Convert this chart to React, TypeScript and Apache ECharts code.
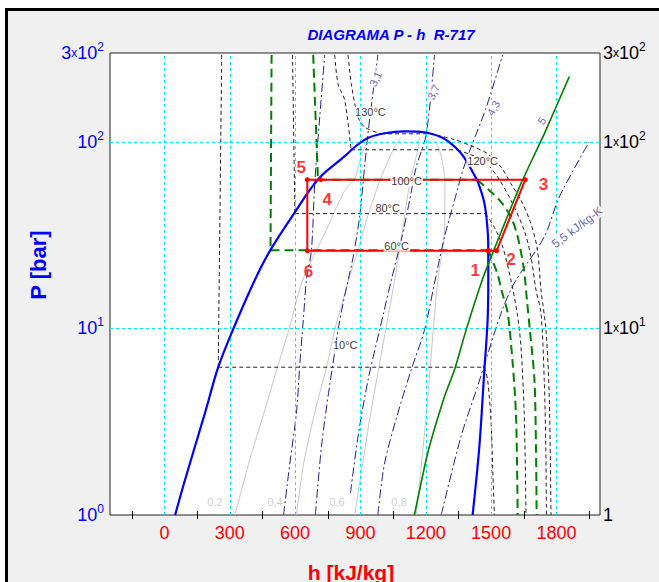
import React, { useEffect, useRef } from 'react';
import * as echarts from 'echarts';

// ---------------- texts & ticks ----------------
const chartTitle = 'DIAGRAMA P - h  R-717';
const xTitle = 'h [kJ/kg]';
const yTitle = 'P [bar]';
const hLabelValues = [0, 300, 600, 900, 1200, 1500, 1800];
const hMinorTicks = [-150, 150, 450, 750, 1050, 1350, 1650, 1950];
const hGridValues = [0, 300, 600, 900, 1200, 1500, 1800];
const pTickValues = [1, 10, 100, 300];
const pLabelsLeft = ['{n|10}{s|0}', '{n|10}{s|1}', '{n|10}{s|2}', '{n|3}{x|x}{n|10}{s|2}'];
const pLabelsRight = ['{n|1}', '{n|1}{x|x}{n|10}{s|1}', '{n|1}{x|x}{n|10}{s|2}', '{n|3}{x|x}{n|10}{s|2}'];
const pGridValues = [10, 100];

// ---------------- saturation dome ----------------
const domeH = [49, 95, 186, 247, 317, 415, 487, 599, 705, 828, 874, 934, 1011, 1103, 1194, 1271, 1316, 1358, 1390, 1415, 1438, 1469, 1484, 1487, 1487, 1484, 1469, 1446, 1415];
const domeP = [1, 1.55, 3.52, 6.2, 10, 18.2, 26.4, 42, 63, 84, 94, 105, 111.4, 114, 112.8, 106, 98, 88, 78, 69, 61.5, 47, 33.6, 26.3, 18.2, 11.1, 6.0, 2.33, 1];

// ---------------- isotherms ----------------
const t10LiqH = [263, 247];
const t10LiqP = [293, 6.2];
const t10VapH = [1469, 1484, 1500, 1507, 1515];
const t10VapP = [6.2, 5.3, 3.11, 1.82, 1];

const t60LiqH = [492, 487];
const t60LiqP = [293, 26.3];
const t60VapH = [1487, 1510, 1530, 1548, 1576, 1599, 1614, 1619, 1622];
const t60VapP = [26.3, 22.5, 19.5, 16, 12.1, 6.5, 3.5, 1.9, 1];

const t80LiqH = [588, 599];
const t80LiqP = [293, 41.3];
const t80VapH = [1475, 1520, 1555, 1591, 1620, 1637, 1652, 1660];
const t80VapP = [41.3, 34, 27, 18.2, 12, 8, 3.5, 1];

const t100LiqH = [683, 705];
const t100LiqP = [293, 62.8];
const t100VapH = [1436, 1500, 1546, 1591, 1622, 1650, 1665, 1678, 1699, 1706, 1709];
const t100VapP = [62.8, 54, 47.6, 39.6, 31, 21, 14, 9.8, 5.3, 2.33, 1];

const t120LiqH = [782, 797, 828, 857];
const t120LiqP = [293, 205, 167, 90.8];
const t120VapH = [1345, 1400, 1468, 1530, 1591, 1652, 1683, 1706, 1729, 1744, 1751, 1754];
const t120VapP = [90.8, 86, 79.4, 64.8, 48.7, 33.6, 24.2, 16.1, 12.1, 5.3, 2.33, 1];

const t130LiqH = [843, 858, 889, 920, 995];
const t130LiqP = [293, 205, 136, 120, 110.6];
const t130VapH = [1220, 1332, 1423, 1484, 1546, 1591, 1637, 1683, 1713, 1729, 1752, 1767, 1775];
const t130VapP = [110.6, 103, 93.8, 86.5, 73.3, 59.8, 48.7, 36.5, 26.3, 16.1, 9.8, 4.3, 1];

// ---------------- isentropes ----------------
const sAH = [547, 576, 606, 622, 640, 652, 675, 690, 713, 736];
const sAP = [1, 1.9, 3.52, 6.5, 12.1, 18.2, 26.3, 59.8, 136, 293];
const sBH = [693, 721, 751, 774, 797, 820, 845, 866, 896, 919, 934, 957, 980];
const sBP = [1, 2.33, 4.3, 6.5, 9.8, 13.6, 18.5, 24, 39.6, 73.3, 110, 181, 293];
const sCH = [854, 889, 935, 988, 1042, 1087, 1126, 1156, 1202, 1240];
const sCP = [1.31, 2.64, 5.3, 9.8, 18.2, 29.7, 48.7, 73.3, 110, 293];
const sDH = [980, 1011, 1072, 1133, 1194, 1240, 1286, 1332, 1370, 1408, 1475, 1553];
const sDP = [1, 1.9, 3.52, 6.0, 9.8, 17.5, 31, 48.7, 70.4, 93.8, 150, 293];
const sEH = [1148, 1209, 1286, 1332, 1385, 1454, 1500, 1637, 1744, 1859];
const sEP = [1, 2.15, 4.32, 6.0, 9.8, 17.5, 24.2, 59.8, 110.6, 224];
const sFH = [1271, 1362, 1438, 1546, 1606, 1744, 1813, 1950];
const sFP = [1, 2.64, 4.9, 12.1, 17.5, 31, 50.7, 100];

// ---------------- quality lines ----------------
const q2H = [324, 388, 457, 525, 571, 635, 732, 828, 874, 919, 985];
const q2P = [1, 1.91, 3.53, 6.54, 9.82, 18.2, 31.6, 55, 63.6, 94, 109];
const q4H = [606, 640, 690, 749, 782, 846, 888, 938, 996, 1057, 1087];
const q4P = [1, 1.91, 3.53, 6.54, 9.82, 18.2, 26.2, 41.6, 65, 94, 106];
const q6H = [874, 942, 1002, 1057, 1089, 1126, 1163, 1171];
const q6P = [1, 3.24, 8, 18.2, 31, 59.8, 90, 106];
const q8H = [1156, 1200, 1255, 1286, 1288, 1263, 1225];
const q8P = [1, 3.24, 18.2, 32.4, 59.8, 90.8, 106];

// ---------------- cycle ----------------
const cycleH = [1487, 1525, 1657, 718, 656, 656, 1487];
const cycleP = [26.1, 26.1, 62.8, 62.8, 62.8, 26.1, 26.1];

// ---------------- labels ----------------
const tLabels = ['130°C', '120°C', '100°C', '80°C', '60°C', '10°C'];
const tLabelH = [946, 1461, 1112, 1025, 1066, 830];
const tLabelP = [145, 78.7, 61.9, 44.4, 27.6, 8.11];
const sLabels = ['3,1', '3,7', '4,3', '5', '5,5 kJ/kg-K'];
const sLabelH = [969, 1236, 1510, 1732, 1895];
const sLabelP = [218, 185, 152, 130, 34.9];
const ptLabels = ['1', '2', '3', '4', '5', '6'];
const ptLabelH = [1427, 1591, 1740, 748, 628, 661];
const ptLabelP = [20.5, 23.3, 59.3, 49.1, 72.6, 20.1];
const qLabels = ['0,2', '0,4', '0,6', '0,8'];
const qLabelH = [232, 508, 792, 1077];
const qLabelP = [1.17, 1.17, 1.17, 1.17];

// ---------------- helpers ----------------
const FONT = 'Liberation Sans, Arial, Helvetica, sans-serif';
const lg = (p: number) => Math.log10(p);
const toData = (H: number[], P: number[]) => H.map((h, i) => [h, lg(P[i])]);

const curve = (H: number[], P: number[], lineStyle: any, z: number, smooth: number | boolean = 0.3) => ({
  type: 'line',
  data: toData(H, P),
  showSymbol: false,
  symbol: 'none',
  smooth,
  lineStyle,
  z,
  silent: true,
  clip: true,
});

const isotherm = (lH: number[], lP: number[], vH: number[], vP: number[], style: any, z: number) => [
  curve(lH, lP, style, z, 0.3),
  curve([lH[lH.length - 1], vH[0]], [lP[lP.length - 1], vP[0]], style, z, false),
  curve(vH, vP, style, z, 0.3),
];

const yFormatter = (labels: string[]) => (v: number) => {
  const i = pTickValues.findIndex((p) => Math.abs(lg(p) - v) < 1e-6);
  return i >= 0 ? labels[i] : '';
};

const yRich = (color: string) => ({
  n: { fontSize: 18, lineHeight: 24, verticalAlign: 'middle', fontFamily: FONT, color },
  x: { fontSize: 12, lineHeight: 24, verticalAlign: 'middle', fontFamily: FONT, color },
  s: { fontSize: 12, lineHeight: 12, verticalAlign: 'top', fontFamily: FONT, color },
});

export default function App() {
  const ref = useRef<HTMLDivElement>(null);

  useEffect(() => {
    if (!ref.current) return;
    const chart = echarts.init(ref.current, undefined, { renderer: 'svg' });

    const blackDash = { color: '#222', width: 1, type: [4, 3] };
    const greenDash = { color: '#008000', width: 2, type: [9, 5] };
    const sStyle = { color: '#22228a', width: 1, type: [9, 3, 2, 3] };
    const qStyle = { color: '#c8c8c8', width: 1, type: 'solid' };

    const labelItems: any[] = [];
    tLabels.forEach((t, i) =>
      labelItems.push({
        value: [tLabelH[i], lg(tLabelP[i])],
        label: { show: true, position: 'inside', formatter: t, color: '#000', fontSize: 11, fontFamily: FONT, backgroundColor: '#fff', padding: [0, 1] },
      })
    );
    const sRot = [65, 63, 60, 55, 37];
    sLabels.forEach((t, i) =>
      labelItems.push({
        value: [sLabelH[i], lg(sLabelP[i])],
        label: { show: true, position: 'inside', formatter: t, rotate: sRot[i], color: '#4040a8', fontSize: i === 4 ? 12 : 11, fontFamily: FONT, backgroundColor: '#fff', padding: [0, 1] },
      })
    );
    ptLabels.forEach((t, i) =>
      labelItems.push({
        value: [ptLabelH[i], lg(ptLabelP[i])],
        label: { show: true, position: 'inside', formatter: t, color: '#ff0000', fontSize: 17, fontWeight: 'bold', fontFamily: FONT },
      })
    );
    qLabels.forEach((t, i) =>
      labelItems.push({
        value: [qLabelH[i], lg(qLabelP[i])],
        label: { show: true, position: 'inside', formatter: t, color: '#c4c4c4', fontSize: 11, fontFamily: FONT },
      })
    );

    const option: any = {
      animation: false,
      backgroundColor: 'transparent',
      title: {
        text: chartTitle,
        left: 386,
        top: 22,
        textAlign: 'center',
        textStyle: { color: '#0000ff', fontSize: 15, fontWeight: 'bold', fontStyle: 'italic', fontFamily: FONT },
      },
      grid: {
        left: 110,
        top: 53,
        width: 490,
        height: 462,
        show: true,
        backgroundColor: '#ffffff',
        borderColor: '#222',
        borderWidth: 1,
        containLabel: false,
      },
      xAxis: [
        {
          type: 'value',
          min: -250,
          max: 2000,
          position: 'bottom',
          axisLine: { show: false },
          axisTick: { show: true, inside: true, length: 4, customValues: hMinorTicks, lineStyle: { color: '#000' } },
          axisLabel: {
            customValues: hLabelValues,
            formatter: (v: number) => String(v),
            color: '#ff0000',
            fontSize: 18,
            margin: 9,
            fontFamily: FONT,
          },
          splitLine: { show: false },
        },
        {
          type: 'value',
          min: -250,
          max: 2000,
          position: 'top',
          axisLine: { show: false },
          axisTick: { show: true, inside: true, length: 4, customValues: hMinorTicks, lineStyle: { color: '#000' } },
          axisLabel: { show: false },
          splitLine: { show: false },
        },
      ],
      yAxis: [
        {
          type: 'value',
          min: 0,
          max: lg(300),
          position: 'left',
          axisLine: { show: false },
          axisTick: { show: false },
          splitLine: { show: false },
          axisLabel: {
            customValues: pTickValues.map(lg),
            formatter: yFormatter(pLabelsLeft),
            rich: yRich('#0000ff'),
            margin: 6,
          },
        },
        {
          type: 'value',
          min: 0,
          max: lg(300),
          position: 'right',
          axisLine: { show: false },
          axisTick: { show: false },
          splitLine: { show: false },
          axisLabel: {
            customValues: pTickValues.map(lg),
            formatter: yFormatter(pLabelsRight),
            rich: yRich('#000000'),
            margin: 3,
          },
        },
      ],
      graphic: [
        {
          type: 'text',
          x: 38,
          y: 265,
          rotation: Math.PI / 2,
          style: { text: yTitle, fill: '#0000ff', font: `bold 22px ${FONT}`, align: 'center', verticalAlign: 'middle', textAlign: 'center', textVerticalAlign: 'middle' },
        },
        {
          type: 'text',
          x: 351,
          y: 572,
          style: { text: xTitle, fill: '#ff0000', font: `bold 21px ${FONT}`, align: 'center', verticalAlign: 'middle', textAlign: 'center', textVerticalAlign: 'middle' },
        },
      ],
      series: [
        {
          type: 'line',
          data: [],
          z: 1,
          silent: true,
          markLine: {
            silent: true,
            symbol: ['none', 'none'],
            label: { show: false },
            lineStyle: { color: '#00e8ff', width: 1, type: [3, 3] },
            data: [...hGridValues.map((h) => ({ xAxis: h })), ...pGridValues.map((p) => ({ yAxis: lg(p) }))],
          },
        },
        curve(q2H, q2P, qStyle, 2),
        curve(q4H, q4P, qStyle, 2),
        curve(q6H, q6P, qStyle, 2),
        curve(q8H, q8P, qStyle, 2),
        ...isotherm(t10LiqH, t10LiqP, t10VapH, t10VapP, blackDash, 3),
        ...isotherm(t80LiqH, t80LiqP, t80VapH, t80VapP, blackDash, 3),
        ...isotherm(t120LiqH, t120LiqP, t120VapH, t120VapP, blackDash, 3),
        ...isotherm(t130LiqH, t130LiqP, t130VapH, t130VapP, blackDash, 3),
        curve(sAH, sAP, sStyle, 3),
        curve(sBH, sBP, sStyle, 3),
        curve(sCH, sCP, sStyle, 3),
        curve(sDH, sDP, sStyle, 3),
        curve(sFH, sFP, sStyle, 3),
        ...isotherm(t60LiqH, t60LiqP, t60VapH, t60VapP, greenDash, 4),
        ...isotherm(t100LiqH, t100LiqP, t100VapH, t100VapP, greenDash, 4),
        curve(domeH, domeP, { color: '#0000ff', width: 2.2 }, 5, 0.35),
        curve(sEH, sEP, { color: '#008000', width: 1.6 }, 5, 0.2),
        {
          type: 'line',
          data: toData(cycleH, cycleP),
          symbol: 'circle',
          symbolSize: 5,
          showSymbol: true,
          itemStyle: { color: '#ff0000' },
          lineStyle: { color: '#ff0000', width: 2 },
          z: 6,
          silent: true,
        },
        {
          type: 'scatter',
          symbolSize: 1,
          itemStyle: { color: 'rgba(0,0,0,0)' },
          z: 20,
          silent: true,
          data: labelItems,
        },
      ],
    };

    chart.setOption(option);
    return () => chart.dispose();
  }, []);

  return (
    <div style={{ position: 'fixed', left: 0, top: 0, width: 659, height: 582, overflow: 'hidden', background: '#fff' }}>
      <div
        style={{
          position: 'absolute',
          left: 5,
          top: 8,
          width: 700,
          height: 620,
          background: '#f0f0f0',
          borderLeft: '3px solid #000',
          borderTop: '3px solid #000',
        }}
      />
      <div ref={ref} style={{ position: 'absolute', left: 0, top: 0, width: 659, height: 582 }} />
    </div>
  );
}
